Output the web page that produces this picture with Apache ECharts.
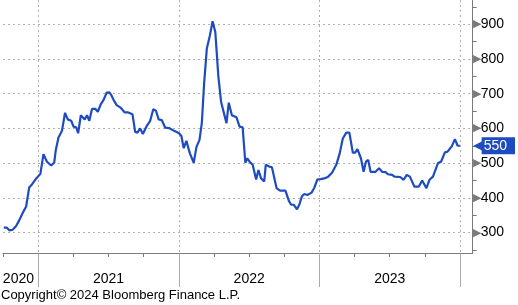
<!DOCTYPE html>
<html><head><meta charset="utf-8">
<script src="https://cdn.jsdelivr.net/npm/echarts@6/dist/echarts.min.js"></script>
<style>html,body{margin:0;padding:0;background:#fff}#c{width:518px;height:305px}</style>
</head><body><div id="c"></div>
<script>
const dates = [
'2020-10-03','2020-10-11','2020-10-18','2020-10-26','2020-11-04','2020-11-12','2020-11-21','2020-11-30','2020-12-08','2020-12-16','2020-12-25',
'2021-01-06','2021-01-14','2021-01-23','2021-02-03','2021-02-11','2021-02-15','2021-02-22','2021-03-03','2021-03-11','2021-03-18','2021-03-27',
'2021-04-02','2021-04-09','2021-04-14','2021-04-21','2021-05-01','2021-05-07','2021-05-13','2021-05-20','2021-05-29','2021-06-04','2021-06-12',
'2021-06-19','2021-06-27','2021-07-04','2021-07-09','2021-07-16','2021-07-23','2021-08-02','2021-08-13','2021-08-22','2021-08-26','2021-09-02',
'2021-09-09','2021-09-15','2021-09-22','2021-09-29','2021-10-08','2021-10-18','2021-10-26','2021-11-02','2021-11-09','2021-11-17','2021-11-26',
'2021-12-06','2021-12-19','2022-01-01','2022-01-07','2022-01-13','2022-01-20','2022-01-29','2022-02-08','2022-02-15','2022-02-23','2022-03-01',
'2022-03-07','2022-03-14','2022-03-22','2022-03-29','2022-04-05','2022-04-13','2022-04-20','2022-05-04','2022-05-10','2022-05-18','2022-05-30',
'2022-06-07','2022-06-15','2022-06-22','2022-06-27','2022-07-03','2022-07-11','2022-07-20','2022-07-26','2022-08-02','2022-08-10','2022-08-14',
'2022-08-23','2022-08-30','2022-09-11','2022-09-20','2022-10-04','2022-10-13','2022-10-19','2022-10-26','2022-11-03','2022-11-09','2022-11-16',
'2022-11-22','2022-11-30','2022-12-11','2022-12-18','2022-12-26','2023-01-03','2023-01-13','2023-01-23','2023-02-02','2023-02-13','2023-02-22',
'2023-03-02','2023-03-11','2023-03-19','2023-03-28','2023-04-03','2023-04-09','2023-04-18','2023-04-25','2023-05-01','2023-05-07','2023-05-13',
'2023-05-26','2023-06-04','2023-06-12','2023-06-21','2023-06-27','2023-07-08','2023-07-14','2023-07-29','2023-08-07','2023-08-15','2023-08-23',
'2023-09-04','2023-09-15','2023-09-24','2023-10-05','2023-10-13','2023-10-22','2023-11-04','2023-11-12','2023-11-22','2023-11-29','2023-12-03',
'2023-12-10','2023-12-18','2023-12-25','2023-12-31'
];
const values = [
314,314,306,308,319,335,356,375,430,440,454,
469,526,504,493,502,538,574,593,645,626,622,
605,603,586,638,626,638,622,656,656,648,670,
682,703,704,696,680,667,660,646,646,643,641,
590,588,600,584,605,622,655,651,626,624,602,
601,593,586,578,543,564,528,501,546,567,615,
730,830,868,909,878,749,677,615,674,638,632,
605,603,501,514,504,495,453,480,456,447,495,
490,488,428,421,421,391,380,380,367,380,405,
411,408,415,429,453,454,456,461,472,495,528,
571,588,588,530,530,540,514,475,504,509,475,
475,485,475,474,468,466,461,460,452,466,461,
432,432,450,428,452,461,500,504,531,533,528,
549,569,550,550
];
const yLabelValues = [300,400,500,600,700,800,900];
const yMinorValues = [250,350,450,550,650,750,850,950];
const quarterTicks = ['2020-10-01','2021-01-01','2021-04-01','2021-07-01','2021-10-01','2022-01-01','2022-04-01','2022-07-01','2022-10-01','2023-01-01','2023-04-01','2023-07-01','2023-10-01','2024-01-01'];
const yearTicks = ['2021-01-01','2022-01-01','2023-01-01','2024-01-01'];
const yearLabelAt = ['2020-11-10','2021-07-02','2022-07-02','2023-07-02'];
const copyrightText = 'Copyright\u00a9 2024 Bloomberg Finance L.P.';

const ts = s => new Date(s + 'T00:00:00').getTime();
const FONT = 'Liberation Sans';
const BLUE = '#1E4CC0';
const GREY = '#7a7a7a';
const yMin = 241, yMax = 970;
const xMin = ts('2020-10-01'), xMax = ts('2024-02-02');
const lastVal = values[values.length - 1];

const chart = echarts.init(document.getElementById('c'), null, {renderer: 'canvas'});
chart.setOption({
  animation: false,
  textStyle: {fontFamily: FONT},
  grid: {left: 0, right: 41, top: 0, bottom: 52, containLabel: false},
  xAxis: [
    {
      type: 'value', min: xMin, max: xMax, position: 'bottom',
      axisLine: {show: true, onZero: false, lineStyle: {color: GREY, width: 1}},
      axisTick: {show: true, customValues: quarterTicks.map(ts), length: 4, lineStyle: {color: GREY}},
      axisLabel: {show: true, customValues: yearLabelAt.map(ts), margin: 19, color: '#000', fontSize: 14, fontFamily: FONT,
        formatter: v => String(new Date(v).getFullYear())},
      splitLine: {show: false}
    },
    {
      type: 'value', min: xMin, max: xMax, position: 'bottom',
      axisLine: {show: false, onZero: false},
      axisTick: {show: true, customValues: yearTicks.map(ts), length: 34, lineStyle: {color: '#aaa'}},
      axisLabel: {show: false},
      splitLine: {show: true, lineStyle: {color: '#b0b0b0', type: [2, 3], width: 1}}
    }
  ],
  yAxis: [
    {
      type: 'value', position: 'right', min: yMin, max: yMax,
      axisLine: {show: true, lineStyle: {color: GREY, width: 1}},
      axisTick: {show: true, customValues: yMinorValues, length: 4, lineStyle: {color: GREY}},
      axisLabel: {show: false},
      splitLine: {show: false}
    },
    {
      type: 'value', position: 'right', min: yMin, max: yMax,
      axisLine: {show: false},
      axisTick: {show: false, customValues: yLabelValues},
      axisLabel: {show: true, customValues: yLabelValues, margin: 0, fontFamily: FONT,
        formatter: v => '{t|\u25B6}{n|' + v + '}',
        rich: {t: {fontSize: 11, color: GREY, padding: [0, 0, 0, 0]}, n: {fontSize: 14, color: '#000', fontFamily: FONT}}},
      splitLine: {show: true, lineStyle: {color: '#b0b0b0', type: [2, 3], width: 1}}
    },
    {
      type: 'value', position: 'right', min: yMin, max: yMax,
      axisLine: {show: false},
      axisTick: {show: false, customValues: [lastVal]},
      axisLabel: {show: true, customValues: [lastVal], margin: 0, fontFamily: FONT,
        formatter: v => '{p|\u25C0}{b|' + Math.round(v) + '}',
        rich: {p: {fontSize: 12, color: BLUE, padding: [0, 0, 0, 0]},
               b: {fontSize: 14, color: '#fff', backgroundColor: BLUE, padding: [2, 8, 1, 2], fontFamily: FONT}}},
      splitLine: {show: false}
    }
  ],
  graphic: [{
    type: 'text', left: 1, top: 289,
    style: {text: copyrightText, fontSize: 13, fontFamily: FONT, fill: '#000'}
  }],
  series: [{
    type: 'line', xAxisIndex: 0, yAxisIndex: 0,
    data: dates.map((d, i) => [ts(d), values[i]]),
    showSymbol: false, symbol: 'none',
    lineStyle: {color: BLUE, width: 2.2},
    z: 5
  }]
});
</script></body></html>
